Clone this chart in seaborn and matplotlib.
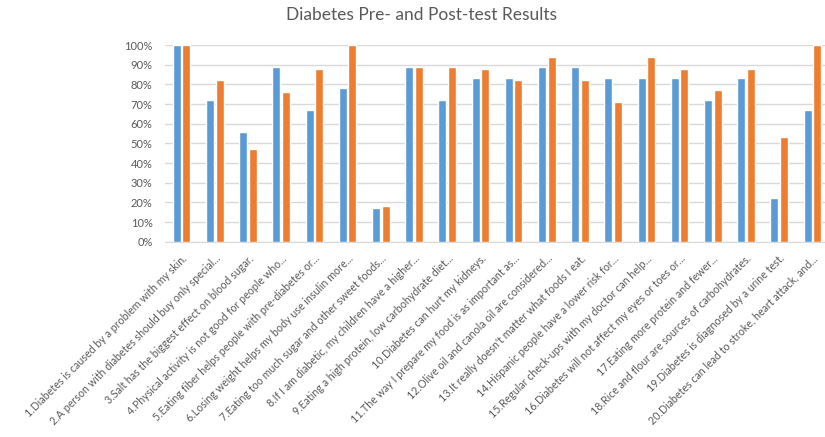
import matplotlib
matplotlib.use("Agg")
import matplotlib.pyplot as plt
import seaborn as sns
import pandas as pd
from matplotlib.ticker import PercentFormatter

questions = [
    "1.Diabetes is caused by a problem with my skin.",
    "2.A person with diabetes should buy only special...",
    "3.Salt has the biggest effect on blood sugar.",
    "4.Physical activity is not good for people who...",
    "5.Eating fiber helps people with pre-diabetes or...",
    "6.Losing weight helps my body use insulin more...",
    "7.Eating too much sugar and other sweet foods...",
    "8.If I am diabetic, my children have a higher...",
    "9.Eating a high protein, low carbohydrate diet...",
    "10.Diabetes can hurt my kidneys.",
    "11.The way I prepare my food is as important as...",
    "12.Olive oil and canola oil are considered...",
    "13.It really doesn't matter what foods I eat.",
    "14.Hispanic people have a lower risk for...",
    "15.Regular check-ups with my doctor can help...",
    "16.Diabetes will not affect my eyes or toes or...",
    "17.Eating more protein and fewer...",
    "18.Rice and flour are sources of carbohydrates.",
    "19.Diabetes is diagnosed by a urine test.",
    "20.Diabetes can lead to stroke, heart attack, and...",
]
pre_test = [100, 72, 56, 89, 67, 78, 17, 89, 72, 83, 83, 89, 89, 83, 83, 83, 72, 83, 22, 67]
post_test = [100, 82, 47, 76, 88, 100, 18, 89, 89, 88, 82, 94, 82, 71, 94, 88, 77, 88, 53, 100]
series = ["Pre-test", "Post-test"]
colors = ["#5B9BD5", "#ED7D31"]

df = pd.DataFrame({
    "question": questions * 2,
    "series": [series[0]] * len(questions) + [series[1]] * len(questions),
    "score": pre_test + post_test,
})

sns.set_style("white")
plt.rcParams["font.family"] = ["Lato", "DejaVu Sans"]

fig = plt.figure(figsize=(8.25, 4.37), dpi=100)
ax = fig.add_axes([165 / 825, (437 - 241.7) / 437, 660 / 825, (241.7 - 45) / 437])

sns.barplot(data=df, x="question", y="score", hue="series", order=questions,
            hue_order=series, palette=colors, saturation=1, width=0.57, gap=0.16,
            legend=False, ax=ax, zorder=3)

ax.set_ylim(0, 100)
ax.set_yticks(range(0, 101, 10))
ax.yaxis.set_major_formatter(PercentFormatter(100, decimals=0))
ax.set_xlim(-0.5, -0.5 + 660 / 33.2)
ax.grid(axis="y", color="#d9d9d9", linewidth=1, zorder=0)
ax.set_axisbelow(True)
for side in ["top", "right", "left"]:
    ax.spines[side].set_visible(False)
ax.spines["bottom"].set_color("#d9d9d9")
ax.set_xlabel("")
ax.set_ylabel("")
ax.tick_params(axis="y", length=0, labelsize=8, labelcolor="#595959", pad=9)
ax.tick_params(axis="x", length=0, labelsize=7.7, labelcolor="#595959", pad=8)
plt.setp(ax.get_xticklabels(), rotation=45, ha="right", rotation_mode="anchor")

fig.text(422 / 825, 1 - 15 / 437, "Diabetes Pre- and Post-test Results",
         ha="center", va="center", fontsize=12.5, color="#595959")

fig.savefig("out.png", dpi=100, facecolor="white")
